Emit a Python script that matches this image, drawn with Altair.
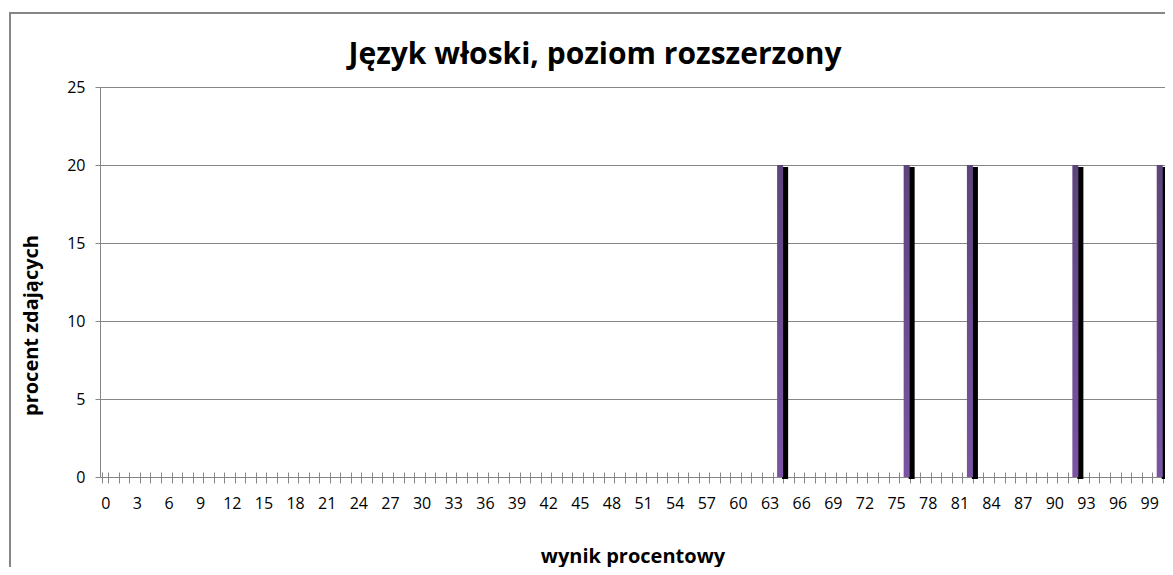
import altair as alt
import pandas as pd

# categories of the x axis (percent score)
scores = list(range(0, 101))
# scores that were actually achieved and their share of test takers
bar_scores = [64, 76, 82, 92, 100]
bar_percent = [20, 20, 20, 20, 20]
chart_title = "Język włoski, poziom rozszerzony"

vals = {s: p for s, p in zip(bar_scores, bar_percent)}
df = pd.DataFrame({"wynik": scores, "procent": [vals.get(s, 0) for s in scores]})

FONT = "Open Sans"
GRAY = "#868686"

x_enc = alt.X(
    "wynik:O",
    scale=alt.Scale(paddingInner=0.43, paddingOuter=0.215),
    axis=alt.Axis(
        title="wynik procentowy",
        titleFont=FONT, titleFontSize=20, titleFontWeight="bold", titleColor="black",
        titleY=84, titleBaseline="middle",
        labelExpr="datum.value % 3 == 0 ? datum.label : ''",
        labelAngle=0, labelFont=FONT, labelFontSize=16, labelColor="black",
        labelPadding=12, labelOverlap=False,
        tickBand="extent", tickSize=11, tickColor=GRAY, tickWidth=1,
        offset=-5, domain=False, grid=False,
    ),
)
y_enc = alt.Y(
    "procent:Q",
    scale=alt.Scale(domain=[0, 25], nice=False),
    axis=alt.Axis(
        title="procent zdających",
        titleFont=FONT, titleFontSize=20, titleFontWeight="bold", titleColor="black",
        titleAngle=270, titleX=-69, titleY=238, titleAlign="center", titleBaseline="middle",
        values=[0, 5, 10, 15, 20, 25],
        labelFont=FONT, labelFontSize=16, labelColor="black", labelPadding=10,
        tickSize=5, tickColor=GRAY, domainColor=GRAY, domainWidth=1,
        grid=True, gridColor=GRAY, gridWidth=1,
    ),
)

base = alt.Chart(df)

shadow = base.mark_bar(color="black", xOffset=5, yOffset=2).encode(x=x_enc, y=y_enc)

purple = base.mark_bar(
    color=alt.Gradient(
        gradient="linear",
        stops=[alt.GradientStop(color="#5c457b", offset=0),
               alt.GradientStop(color="#7a54a3", offset=1)],
        x1=0, x2=0, y1=0, y2=1,
    )
).encode(x="wynik:O", y="procent:Q")

frame = alt.Chart(pd.DataFrame({"k": [0]})).mark_rect(
    fill=None, stroke=GRAY, strokeWidth=2
).encode(x=alt.value(-90), x2=alt.value(1300), y=alt.value(-74), y2=alt.value(700))

title = alt.Chart(pd.DataFrame({"t": [chart_title]})).mark_text(
    font=FONT, fontSize=30, fontWeight="bold", color="black",
    align="center", baseline="middle",
).encode(text="t:N", x=alt.value(495), y=alt.value(-32))

chart = (
    alt.layer(frame, shadow, purple, title)
    .properties(
        width=1065,
        height=390,
        autosize=alt.AutoSizeParams(type="none"),
        padding={"left": 92, "top": 79, "right": 0, "bottom": 90},
    )
    .configure_view(stroke=None)
    .configure(background="white")
)

chart.save("out.html", embed_options={"renderer": "svg", "actions": False})
